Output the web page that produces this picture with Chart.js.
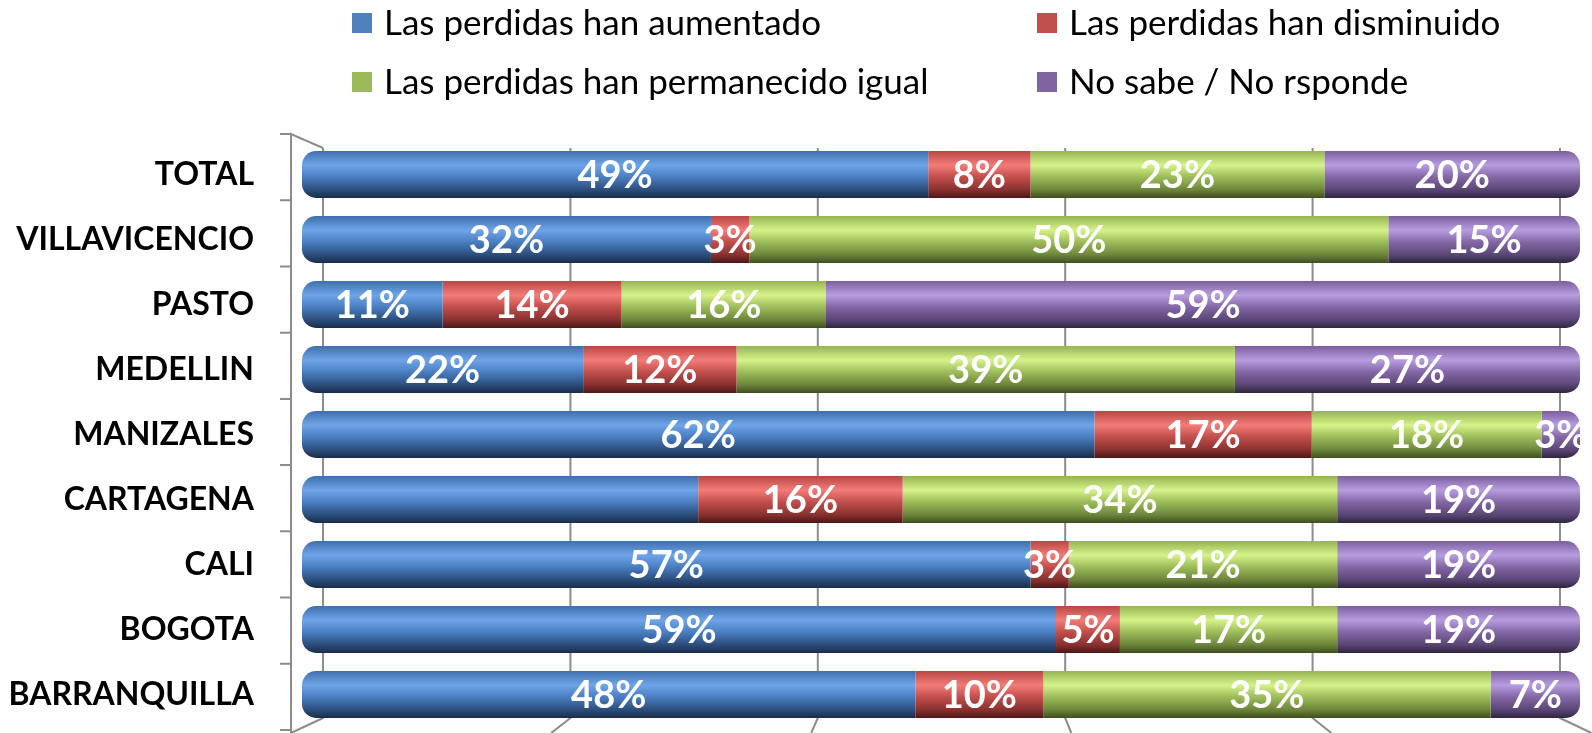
<!DOCTYPE html>
<html>
<head>
<meta charset="utf-8">
<script src="https://cdn.jsdelivr.net/npm/chart.js@4.4.0/dist/chart.umd.min.js"></script>
<style>
  html, body { margin: 0; padding: 0; background: #fff; }
  canvas { display: block; }
</style>
</head>
<body>
<canvas id="lossChart" width="1592" height="733"></canvas>
<script>
const cities = ['TOTAL', 'VILLAVICENCIO', 'PASTO', 'MEDELLIN', 'MANIZALES', 'CARTAGENA', 'CALI', 'BOGOTA', 'BARRANQUILLA'];
const seriesNames = ['Las perdidas han aumentado', 'Las perdidas han disminuido', 'Las perdidas han permanecido igual', 'No sabe / No rsponde'];
const aumentado = [49, 32, 11, 22, 62, 31, 57, 59, 48];
const disminuido = [8, 3, 14, 12, 17, 16, 3, 5, 10];
const igual = [23, 50, 16, 39, 18, 34, 21, 17, 35];
const noSabe = [20, 15, 59, 27, 3, 19, 19, 19, 7];
const gridTicks = [0, 20, 40, 60, 80, 100];
// the blue CARTAGENA piece has no label in the original
const hiddenLabels = ['0:5'];

const flatColors = ['#4f81bd', '#c0504d', '#9bbb59', '#8064a2'];
const shades = [
    ['#3f6fad', '#6ea5e8', '#4a7fc2', '#2c4f7e', '#1a2d4a'],
    ['#b84744', '#f47c78', '#c24f4c', '#8a3230', '#4e1716'],
    ['#95b552', '#d6f28a', '#9dbd5a', '#6e873c', '#3f4f1f'],
    ['#7c5e9f', '#b79de0', '#8467a6', '#5b4777', '#30253f']
];
const BAR_PCT = 0.72;

function cylinder(i) {
    return function (c) {
        const y = c.chart.scales.y;
        if (!y || c.dataIndex === undefined) return flatColors[i];
        const cy = y.getPixelForValue(c.dataIndex);
        const h = (y.bottom - y.top) / cities.length * BAR_PCT;
        if (!isFinite(cy) || !isFinite(h)) return flatColors[i];
        const g = c.chart.ctx.createLinearGradient(0, cy - h / 2, 0, cy + h / 2);
        const s = shades[i];
        g.addColorStop(0, s[0]);
        g.addColorStop(0.3, s[1]);
        g.addColorStop(0.55, s[2]);
        g.addColorStop(0.82, s[3]);
        g.addColorStop(1, s[4]);
        return g;
    };
}

const r = 14;
const radii = [
    { topLeft: r, bottomLeft: r, topRight: 0, bottomRight: 0 },
    0,
    0,
    { topLeft: 0, bottomLeft: 0, topRight: r, bottomRight: r }
];

// back wall, floor edges and the left axis of the 3d frame
const frame = {
    id: 'frame',
    beforeDatasetsDraw(chart) {
        const { ctx, chartArea: a, scales } = chart;
        const back = scales.xBack, front = scales.xFront;
        const backTop = a.top + 6, backBottom = a.bottom - 9;
        const frontTop = a.top - 8, frontBottom = a.bottom + 6;
        ctx.save();
        ctx.strokeStyle = '#8c8c8c';
        ctx.lineWidth = 2;
        gridTicks.forEach(t => {
            const xb = back.getPixelForValue(t), xf = front.getPixelForValue(t);
            ctx.beginPath();
            ctx.moveTo(xb, backTop);
            ctx.lineTo(xb, backBottom);
            ctx.lineTo(xf, frontBottom);
            ctx.stroke();
        });
        const x0 = front.getPixelForValue(0);
        ctx.beginPath();
        ctx.moveTo(back.getPixelForValue(0), backTop);
        ctx.lineTo(x0, frontTop);
        ctx.lineTo(x0, frontBottom);
        const tickBottom = a.bottom + 3;
        for (let i = 0; i <= cities.length; i++) {
            const ty = frontTop + i * (tickBottom - frontTop) / cities.length;
            ctx.moveTo(x0 - 11, ty);
            ctx.lineTo(x0, ty);
        }
        ctx.stroke();
        ctx.restore();
    }
};

const valueLabels = {
    id: 'valueLabels',
    afterDatasetsDraw(chart) {
        const ctx = chart.ctx;
        ctx.save();
        ctx.fillStyle = '#fff';
        ctx.font = 'bold 38px Lato';
        ctx.textAlign = 'center';
        ctx.textBaseline = 'middle';
        chart.data.datasets.forEach((ds, di) => {
            chart.getDatasetMeta(di).data.forEach((bar, i) => {
                if (hiddenLabels.includes(di + ':' + i)) return;
                ctx.fillText(ds.data[i] + '%', (bar.x + bar.base) / 2, bar.y + 1);
            });
        });
        ctx.restore();
    }
};

const legendGrid = {
    id: 'legendGrid',
    afterDraw(chart) {
        const ctx = chart.ctx;
        const cols = [352, 1037], rows = [23, 82];
        ctx.save();
        ctx.font = '35px Lato';
        ctx.textBaseline = 'middle';
        seriesNames.forEach((name, i) => {
            const x = cols[i % 2], y = rows[Math.floor(i / 2)];
            ctx.fillStyle = flatColors[i];
            ctx.fillRect(x, y - 10, 20, 20);
            ctx.fillStyle = '#000';
            ctx.fillText(name, x + 32, y + 1);
        });
        ctx.restore();
    }
};

const seriesData = [aumentado, disminuido, igual, noSabe];

new Chart(document.getElementById('lossChart'), {
    type: 'bar',
    data: {
        labels: cities,
        datasets: seriesData.map((d, i) => ({
            label: seriesNames[i],
            data: d,
            backgroundColor: cylinder(i),
            borderWidth: 0,
            borderSkipped: false,
            borderRadius: radii[i],
            barPercentage: BAR_PCT,
            categoryPercentage: 1
        }))
    },
    options: {
        indexAxis: 'y',
        responsive: false,
        animation: false,
        devicePixelRatio: 1,
        layout: { padding: { top: 142, bottom: 6, right: 12, left: 0 } },
        plugins: { legend: { display: false }, tooltip: { enabled: false } },
        scales: {
            x: { stacked: true, min: 0, max: 100, display: false },
            xBack: { type: 'linear', position: 'bottom', display: false, min: -1.7, max: 101.62 },
            xFront: { type: 'linear', position: 'bottom', display: false, min: 0.846, max: 99.12 },
            y: {
                stacked: true,
                grid: { display: false },
                border: { display: false },
                ticks: { color: '#000', font: { family: 'Lato', weight: 'bold', size: 32 }, padding: 40 },
                afterFit(s) {
                    s.width = 302;
                    s.paddingTop = 0;
                    s.paddingBottom = 0;
                }
            }
        }
    },
    plugins: [frame, valueLabels, legendGrid]
});
</script>
</body>
</html>
